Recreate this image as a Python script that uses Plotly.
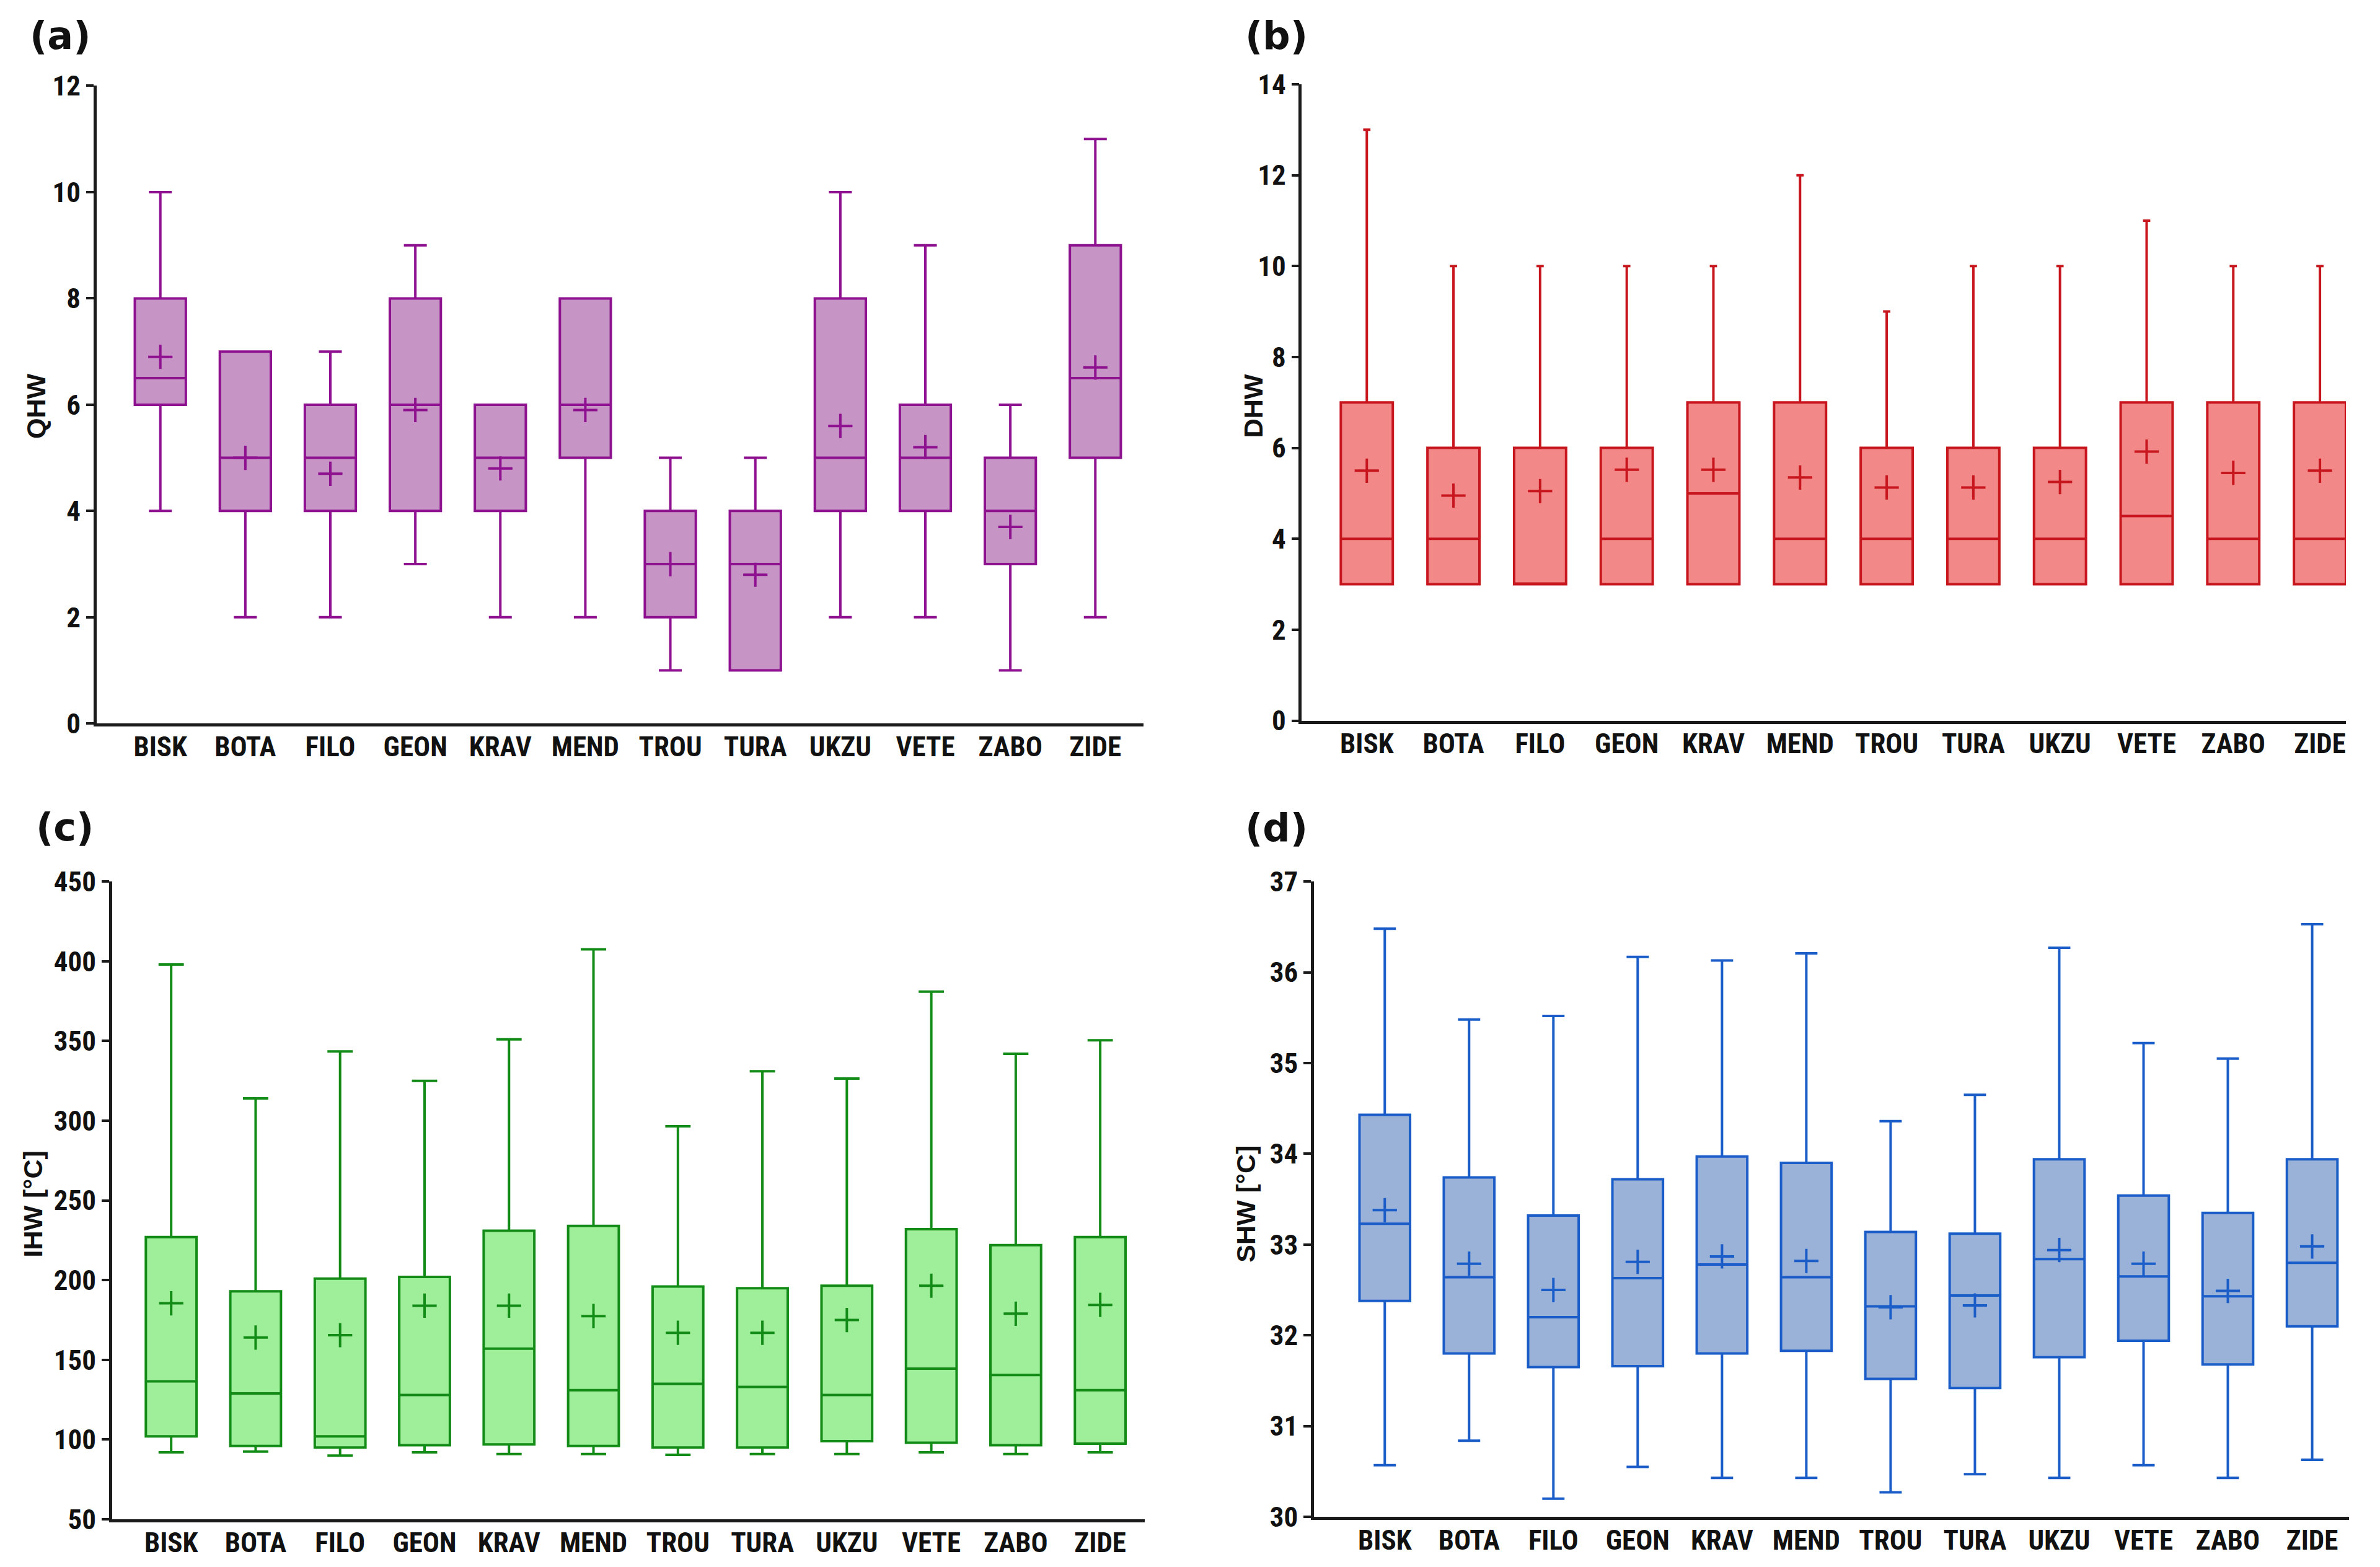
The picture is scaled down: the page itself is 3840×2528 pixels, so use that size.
import plotly.graph_objects as go

stations = ["BISK", "BOTA", "FILO", "GEON", "KRAV", "MEND", "TROU", "TURA", "UKZU", "VETE", "ZABO", "ZIDE"]

# (a) QHW
qhw_lo = [4, 2, 2, 3, 2, 2, 1, 1, 2, 2, 1, 2]
qhw_q1 = [6, 4, 4, 4, 4, 5, 2, 1, 4, 4, 3, 5]
qhw_med = [6.5, 5, 5, 6, 5, 6, 3, 3, 5, 5, 4, 6.5]
qhw_q3 = [8, 7, 6, 8, 6, 8, 4, 4, 8, 6, 5, 9]
qhw_hi = [10, 7, 7, 9, 6, 8, 5, 5, 10, 9, 6, 11]
qhw_mean = [6.9, 5.0, 4.7, 5.9, 4.8, 5.9, 3.0, 2.8, 5.6, 5.2, 3.7, 6.7]

# (b) DHW
dhw_lo = [3, 3, 3, 3, 3, 3, 3, 3, 3, 3, 3, 3]
dhw_q1 = [3, 3, 3, 3, 3, 3, 3, 3, 3, 3, 3, 3]
dhw_med = [4, 4, 3, 4, 5, 4, 4, 4, 4, 4.5, 4, 4]
dhw_q3 = [7, 6, 6, 6, 7, 7, 6, 6, 6, 7, 7, 7]
dhw_hi = [13, 10, 10, 10, 10, 12, 9, 10, 10, 11, 10, 10]
dhw_mean = [5.5, 4.95, 5.05, 5.52, 5.52, 5.35, 5.13, 5.13, 5.25, 5.92, 5.45, 5.5]

# (c) IHW [°C]
ihw_lo = [92, 92.5, 90, 92, 91, 91, 90.5, 91, 91, 92, 91, 92]
ihw_q1 = [102, 96, 95, 96.5, 97, 96, 95, 95, 99, 98, 96.5, 97.5]
ihw_med = [136.5, 129, 102, 128, 157, 131, 135, 133, 128, 144.5, 140.5, 131]
ihw_q3 = [227, 193, 201, 202, 231, 234, 196, 195, 196.5, 232, 222, 227]
ihw_hi = [398, 314, 343.5, 325, 351, 407.5, 296.5, 331, 326.5, 381, 342, 350.5]
ihw_mean = [185.5, 164, 165.5, 184, 184, 177.5, 167, 167, 175, 196.5, 179, 184.5]

# (d) SHW [°C]
shw_lo = [30.57, 30.84, 30.20, 30.55, 30.43, 30.43, 30.27, 30.47, 30.43, 30.57, 30.43, 30.63]
shw_q1 = [32.38, 31.80, 31.65, 31.66, 31.80, 31.83, 31.52, 31.42, 31.76, 31.94, 31.68, 32.10]
shw_med = [33.23, 32.64, 32.20, 32.63, 32.78, 32.64, 32.32, 32.44, 32.84, 32.65, 32.43, 32.80]
shw_q3 = [34.43, 33.74, 33.32, 33.72, 33.97, 33.90, 33.14, 33.12, 33.94, 33.54, 33.35, 33.94]
shw_hi = [36.48, 35.48, 35.52, 36.17, 36.13, 36.21, 34.36, 34.65, 36.27, 35.22, 35.05, 36.53]
shw_mean = [33.38, 32.79, 32.50, 32.81, 32.87, 32.82, 32.31, 32.33, 32.94, 32.79, 32.49, 32.98]

panels = [
    dict(lo=qhw_lo, q1=qhw_q1, med=qhw_med, q3=qhw_q3, hi=qhw_hi, mean=qhw_mean,
         line="#8E1190", fill="#C795C5", ww=0.45, yr=[0, 12], dt=2,
         title="QHW", label="(a)", xd=[0.0385, 0.4785], yd=[0.5421, 0.9578],
         xr=[-0.75, 11.57], tx=0.0132, ty=0.749, lx=0.0100, ly=0.9905),
    dict(lo=dhw_lo, q1=dhw_q1, med=dhw_med, q3=dhw_q3, hi=dhw_hi, mean=dhw_mean,
         line="#C8161E", fill="#F28888", ww=0.14, yr=[0, 14], dt=2,
         title="DHW", label="(b)", xd=[0.5449, 0.9836], yd=[0.5440, 0.9588],
         xr=[-0.75, 11.30], tx=0.5245, ty=0.749, lx=0.5205, ly=0.9905),
    dict(lo=ihw_lo, q1=ihw_q1, med=ihw_med, q3=ihw_q3, hi=ihw_hi, mean=ihw_mean,
         line="#138C17", fill="#9EEE9A", ww=0.5, yr=[50, 450], dt=50,
         title="IHW [°C]", label="(c)", xd=[0.0450, 0.4790], yd=[0.0234, 0.4391],
         xr=[-0.70, 11.53], tx=0.0118, ty=0.229, lx=0.0125, ly=0.4745),
    dict(lo=shw_lo, q1=shw_q1, med=shw_med, q3=shw_q3, hi=shw_hi, mean=shw_mean,
         line="#1A5CC8", fill="#9AB2D8", ww=0.44, yr=[30, 37], dt=1,
         title="SHW [°C]", label="(d)", xd=[0.5500, 0.9850], yd=[0.0250, 0.4391],
         xr=[-0.84, 11.44], tx=0.5215, ty=0.229, lx=0.5205, ly=0.4740),
]

fig = go.Figure()
TICKFONT = dict(family="Liberation Sans Narrow, Arial Narrow, Roboto Condensed, Liberation Sans, sans-serif",
                size=45, color="#111111", weight="bold")
AXC = "#1a1a1a"

annotations = []
for i, p in enumerate(panels):
    n = "" if i == 0 else str(i + 1)
    xa, ya = "x" + n, "y" + n
    fig.add_trace(go.Box(
        x=stations, q1=p["q1"], median=p["med"], q3=p["q3"],
        lowerfence=p["lo"], upperfence=p["hi"],
        xaxis=xa, yaxis=ya, width=0.6, whiskerwidth=p["ww"],
        fillcolor=p["fill"], line=dict(color=p["line"], width=4),
        boxpoints=False, showlegend=False, hoverinfo="skip",
    ))
    fig.add_trace(go.Scatter(
        x=stations, y=p["mean"], xaxis=xa, yaxis=ya, mode="markers",
        marker=dict(symbol="cross-thin", size=28, color=p["line"],
                    line=dict(color=p["line"], width=4)),
        showlegend=False, hoverinfo="skip",
    ))
    key = "" if i == 0 else str(i + 1)
    fig.layout["xaxis" + key] = dict(
        domain=p["xd"], anchor=ya, type="category", range=p["xr"],
        showline=True, linecolor=AXC, linewidth=4.5, showgrid=False, zeroline=False,
        ticks="", ticklabelstandoff=-6, tickfont=TICKFONT,
        fixedrange=True,
    )
    fig.layout["yaxis" + key] = dict(
        domain=p["yd"], anchor=xa, range=p["yr"], dtick=p["dt"], tick0=p["yr"][0],
        showline=True, linecolor=AXC, linewidth=4.5, showgrid=False, zeroline=False,
        ticks="outside", ticklen=12, tickwidth=4, tickcolor=AXC, tickfont=TICKFONT,
        fixedrange=True,
    )
    annotations.append(dict(
        text="<b>" + p["title"] + "</b>", xref="paper", yref="paper",
        x=p["tx"], y=p["ty"], xanchor="center", yanchor="middle", textangle=-90,
        showarrow=False, font=dict(family="Liberation Sans, Arial, sans-serif", size=43, color="#111111"),
    ))
    annotations.append(dict(
        text="<b>" + p["label"] + "</b>", xref="paper", yref="paper",
        x=p["lx"], y=p["ly"], xanchor="left", yanchor="middle",
        showarrow=False, font=dict(family="DejaVu Sans, sans-serif", size=62, color="#111111"),
    ))

fig.update_layout(
    width=3840, height=2528,
    margin=dict(l=0, r=0, t=0, b=0),
    paper_bgcolor="white", plot_bgcolor="white",
    annotations=annotations,
)

fig.write_html("out.html")
